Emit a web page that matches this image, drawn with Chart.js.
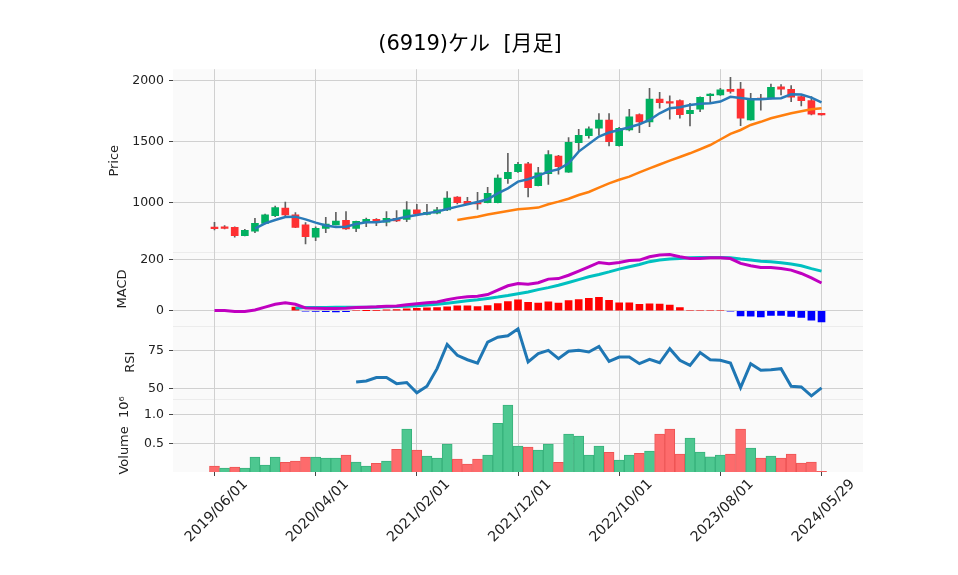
<!DOCTYPE html>
<html>
<head>
<meta charset="utf-8">
<script src="https://cdn.jsdelivr.net/npm/chart.js@4.4.1/dist/chart.umd.min.js"></script>
<style>
html, body { margin: 0; padding: 0; background: #fff; }
#wrap { width: 958px; height: 575px; position: relative; }
</style>
</head>
<body>
<div id="wrap"><canvas id="chart" width="958" height="575"></canvas></div>
<script>
// monthly bars, last one is the partial month
const dates = [
  '2019/06/01','2019/07/01','2019/08/01','2019/09/01','2019/10/01','2019/11/01','2019/12/01',
  '2020/01/01','2020/02/01','2020/03/01','2020/04/01','2020/05/01','2020/06/01','2020/07/01',
  '2020/08/01','2020/09/01','2020/10/01','2020/11/01','2020/12/01',
  '2021/01/01','2021/02/01','2021/03/01','2021/04/01','2021/05/01','2021/06/01','2021/07/01',
  '2021/08/01','2021/09/01','2021/10/01','2021/11/01','2021/12/01',
  '2022/01/01','2022/02/01','2022/03/01','2022/04/01','2022/05/01','2022/06/01','2022/07/01',
  '2022/08/01','2022/09/01','2022/10/01','2022/11/01','2022/12/01',
  '2023/01/01','2023/02/01','2023/03/01','2023/04/01','2023/05/01','2023/06/01','2023/07/01',
  '2023/08/01','2023/09/01','2023/10/01','2023/11/01','2023/12/01',
  '2024/01/01','2024/02/01','2024/03/01','2024/04/01','2024/05/01','2024/05/29'
];
const tickIdx = [0, 10, 20, 30, 40, 50, 60];

const open  = [795,795,800,732,770,833,896,959,902,820, 719,792,820,858,792,839,866,842,874,866,
               943,907,916,943,1049,1014,1003,1003,1003,1200, 1257,1320,1142,1240,1385,1252,1495,1552,1612,1680,
               1470,1598,1724,1664,1852,1828,1839,1732,1768,1880, 1885,1932,1934,1680,1856,1856,1951,1932,1872,1839, 1730];
const high  = [842,815,805,784,874,910,975,1008,921,839, 805,882,924,929,852,877,872,929,937,1011,
               989,989,964,1093,1052,1047,1088,1128,1230,1407, 1334,1334,1293,1429,1390,1536,1604,1623,1732,1732,
               1620,1768,1730,1940,1907,1877,1845,1817,1870,1896, 1940,2030,1989,1899,1890,1975,1970,1962,1878,1872, 1730];
const low   = [779,788,719,730,757,828,888,893,798,664, 692,757,820,784,765,806,814,812,847,847,
               913,902,910,937,992,987,948,1000,1000,1161, 1250,1049,1140,1153,1235,1250,1421,1530,1555,1467,
               1465,1590,1576,1626,1776,1686,1694,1631,1749,1817, 1882,1899,1634,1678,1760,1852,1885,1830,1795,1721, 1720];
const close = [790,792,732,776,833,902,962,902,800,724, 792,828,852,787,850,866,839,874,853,943,
               913,924,943,1041,1003,995,993,1080,1205,1252, 1317,1126,1246,1396,1298,1497,1555,1607,1680,1503,
               1612,1705,1664,1852,1822,1818,1724,1760,1866,1893, 1926,1913,1694,1850,1848,1948,1932,1866,1839,1727, 1722];

const maShort = [null,null,null,null,790,833,861,885,888,866, 839,815,803,806,828,842,842,853,869,888,
                 902,915,929,951,970,989,1008,1030,1079,1120, 1175,1194,1224,1257,1276,1325,1421,1484,1544,1577,
                 1598,1620,1645,1680,1735,1776,1784,1803,1812,1817, 1831,1870,1860,1850,1850,1855,1858,1890,1888,1863, 1825];
const maLong  = [null,null,null,null,null,null,null,null,null,null, null,null,null,null,null,null,null,null,null,null,
                 null,null,null,null,861,874,888,905,920,935, 948,955,962,989,1011,1035,1065,1090,1125,1160,
                 1190,1216,1250,1284,1315,1347,1377,1407,1440,1475, 1520,1566,1598,1639,1665,1694,1715,1735,1752,1768, 1776];

const macd   = [1,1,-3,-3,3,14,25,31,25,11, 10,9,9,10,13,14,15,17,18,23,
                27,31,34,43,50,54,56,63,80,97, 106,103,109,123,125,138,154,171,188,183,
                188,195,197,210,217,219,210,203,203,206, 206,203,184,175,168,168,164,158,145,128, 108];
const signal = [null,null,null,null,null,null,null,null,10,13, 13,13,14,14,14,14,14,15,16,17,
                19,22,25,29,34,39,43,48,53,59, 66,73,82,90,99,110,121,132,141,151,
                162,171,180,191,197,201,203,206,207,207, 207,206,201,197,193,191,187,182,175,164, 154];
const hist   = [null,null,null,null,null,null,null,null,14,-2, -3,-4,-5,-4,0,0.5,1,3,4,7,
                9,11,12,15,19,19,16,20,28,36, 42,33,30,35,30,39,43,48,52,40,
                31,31,25,27,26,22,12,0,0,0, 0,-2,-20,-21,-24,-18,-18,-22,-26,-37, -44];

const rsi = [null,null,null,null,null,null,null,null,null,null, null,null,null,null,54.3,55,57.2,57.2,53.2,53.9,
             47.1,51.5,63.1,79.1,71.9,69,66.8,80.6,83.9,84.8, 89.4,67.5,73,75.2,69.7,74.6,75.2,74.1,77.8,67.9,
             70.8,70.8,66.4,69.3,67,76.3,68.6,65.3,73.7,69, 68.6,66.8,50.6,66.4,62,62.4,63.1,51.5,51,45.1, 50.4];

// volume in millions of shares
const volume = [0.105,0.07,0.087,0.07,0.262,0.122,0.262,0.17,0.19,0.262, 0.262,0.244,0.244,0.297,0.175,0.105,0.151,0.192,0.395,0.749,
                0.384,0.279,0.244,0.489,0.227,0.14,0.227,0.297,0.849,1.17, 0.454,0.436,0.384,0.489,0.169,0.663,0.628,0.297,0.454,0.344,
                0.209,0.297,0.326,0.367,0.663,0.75,0.314,0.593,0.35,0.267, 0.297,0.314,0.75,0.419,0.244,0.279,0.244,0.314,0.157,0.175, 0.01];

const UP = '#00b060', DOWN = '#fe3032';
const VUP = '#4dc790', VDOWN = '#fd6b6c';
const FONT = "'DejaVu Sans', 'Noto Sans CJK JP', sans-serif";

const pts = arr => arr.map((v, i) => ({x: i, y: v}));
const isUp = close.map((c, i) => c >= open[i]);
const volUp = close.map((c, i) => i === 0 ? c >= open[0] : c >= close[i - 1]);

const fixTicks = vals => axis => { axis.ticks = vals.map(v => ({value: v})); };
const leftWidth = axis => { axis.width = 96; };

function yAxis(opt) {
  return {
    type: 'linear',
    position: 'left',
    stack: 'panels',
    stackWeight: opt.sw,
    weight: opt.w,
    min: opt.min,
    max: opt.max,
    afterBuildTicks: fixTicks(opt.ticks),
    afterFit: leftWidth,
    ticks: {
      font: {family: FONT, size: 12.5},
      color: '#222',
      padding: 5,
      callback: opt.fmt || (v => v)
    },
    grid: {color: '#d0d0d0', tickColor: '#444', tickLength: 4, lineWidth: 1},
    border: {display: false},
    title: {
      display: true,
      text: opt.title,
      font: {family: FONT, size: 13},
      color: '#222',
      padding: {top: opt.tpad, bottom: 0}
    }
  };
}

const panelBg = {
  id: 'panelBg',
  beforeDraw(chart) {
    const {ctx, chartArea: a} = chart;
    ctx.save();
    ctx.fillStyle = '#fafafa';
    ctx.fillRect(a.left, a.top, a.right - a.left, a.bottom - a.top);
    ctx.strokeStyle = '#ececec';
    ctx.lineWidth = 1;
    ['yM', 'yR', 'yV'].forEach(id => {
      const y = Math.round(chart.scales[id].top) + 0.5;
      ctx.beginPath();
      ctx.moveTo(a.left, y);
      ctx.lineTo(a.right, y);
      ctx.stroke();
    });
    ctx.restore();
  }
};

const ctx = document.getElementById('chart').getContext('2d');
new Chart(ctx, {
  data: {
    datasets: [
      {type: 'line', yAxisID: 'yP', order: 0, data: pts(maShort), borderColor: '#2a7ab8', borderWidth: 2.5, pointRadius: 0},
      {type: 'line', yAxisID: 'yP', order: 0, data: pts(maLong), borderColor: '#ff7f0e', borderWidth: 2.5, pointRadius: 0},
      {type: 'bar', yAxisID: 'yP', order: 1, grouped: false, barThickness: 7, minBarLength: 1.5,
       data: open.map((o, i) => ({x: i, y: [o, close[i]]})),
       backgroundColor: isUp.map(u => u ? UP : DOWN)},
      {type: 'bar', yAxisID: 'yP', order: 2, grouped: false, barThickness: 1,
       data: low.map((l, i) => ({x: i, y: [l, high[i]]})),
       backgroundColor: '#606060'},

      {type: 'line', yAxisID: 'yM', order: 0, data: pts(macd), borderColor: '#c000c0', borderWidth: 3, pointRadius: 0},
      {type: 'line', yAxisID: 'yM', order: 0, data: pts(signal), borderColor: '#00c0c0', borderWidth: 3, pointRadius: 0},
      {type: 'bar', yAxisID: 'yM', order: 1, grouped: false, barThickness: 7,
       data: pts(hist), backgroundColor: hist.map(h => h >= 0 ? '#ff0000' : '#0000ff')},

      {type: 'line', yAxisID: 'yR', order: 0, data: pts(rsi), borderColor: '#1f77b4', borderWidth: 3, pointRadius: 0},

      {type: 'bar', yAxisID: 'yV', order: 1, grouped: false, barThickness: 10,
       data: pts(volume),
       backgroundColor: volUp.map(u => u ? VUP : VDOWN),
       borderColor: volUp.map(u => u ? '#38b27c' : '#ee5454'),
       borderWidth: 1}
    ]
  },
  options: {
    responsive: false,
    animation: false,
    events: [],
    layout: {padding: {left: 77, right: 95, top: 0, bottom: 0}},
    plugins: {
      legend: {display: false},
      tooltip: {enabled: false},
      title: {
        display: true,
        text: '(6919)ケル  [月足]',
        color: '#000',
        font: {family: FONT, size: 21, weight: 'normal'},
        padding: {top: 32, bottom: 12}
      }
    },
    scales: {
      x: {
        type: 'linear',
        offset: false,
        min: -4.1,
        max: 64.1,
        afterBuildTicks: fixTicks(tickIdx),
        afterFit: axis => { axis.height = 103; },
        ticks: {
          autoSkip: false,
          minRotation: 45,
          maxRotation: 45,
          labelOffset: 31,
          padding: 0,
          font: {family: FONT, size: 14.2},
          color: '#222',
          callback: v => dates[v]
        },
        grid: {offset: false, color: '#d0d0d0', tickColor: '#444', tickLength: 4},
        border: {display: false}
      },
      yP: yAxis({sw: 2.5, w: 4, min: 596, max: 2096, ticks: [1000, 1500, 2000], title: 'Price', tpad: 30}),
      yM: yAxis({sw: 1, w: 3, min: -57.6, max: 227.4, ticks: [0, 200], title: 'MACD', tpad: 38}),
      yR: yAxis({sw: 1, w: 2, min: 43.2, max: 91.6, ticks: [50, 75], title: 'RSI', tpad: 46}),
      yV: yAxis({sw: 1, w: 1, min: 0, max: 1.279, ticks: [0.5, 1.0], title: 'Volume  10⁶', tpad: 40,
                 fmt: v => v.toFixed(1)})
    }
  },
  plugins: [panelBg]
});
</script>
</body>
</html>
